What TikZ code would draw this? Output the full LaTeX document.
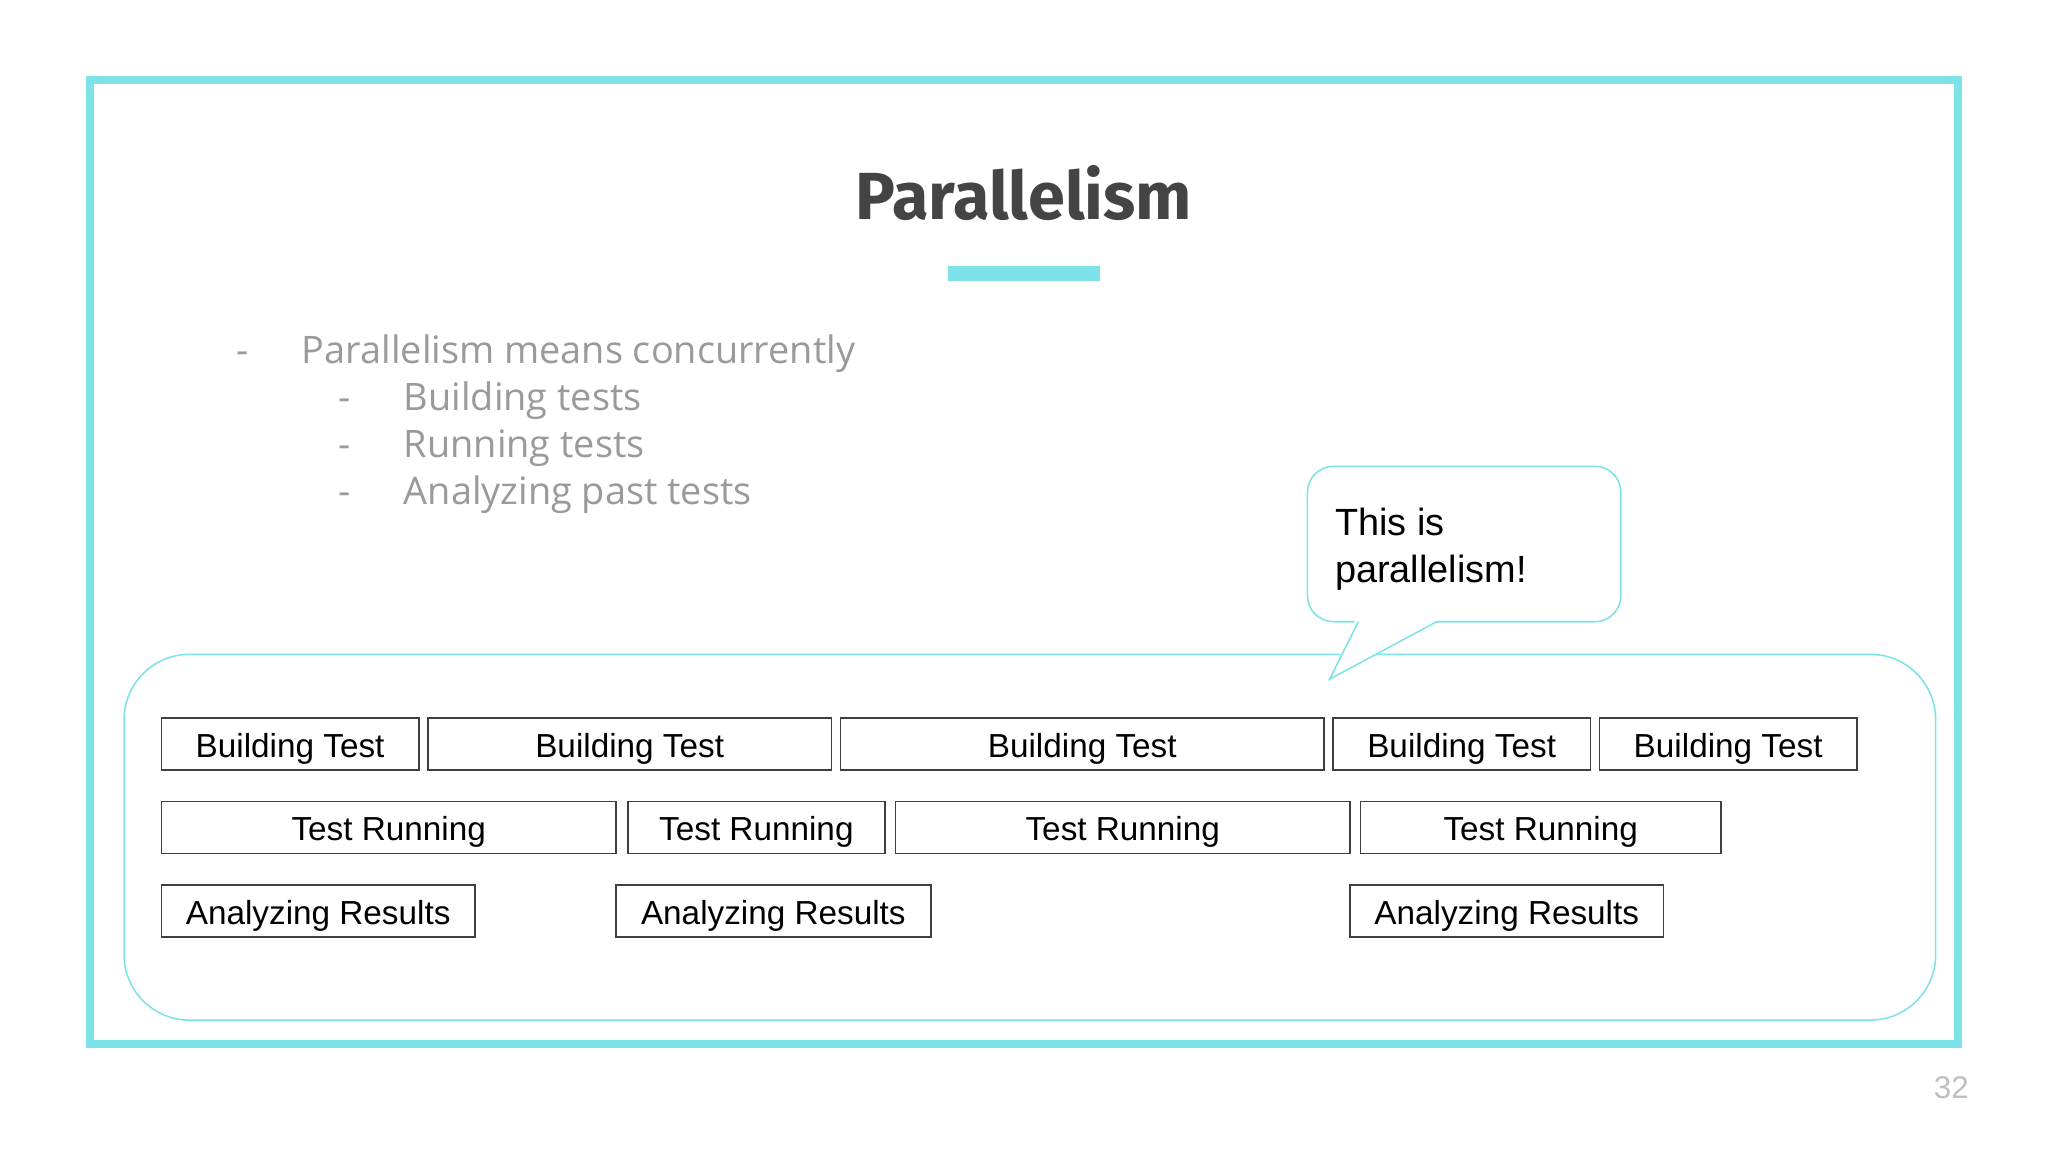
\documentclass[tikz,border=0pt]{standalone}
\usepackage{fontspec}
\setmainfont{Liberation Sans}
\newfontfamily\titlefont{Fira Sans}
\newfontfamily\bulletfont{Open Sans}
\definecolor{cy}{HTML}{7EE3E8}
\definecolor{tg}{HTML}{444444}
\definecolor{lg}{HTML}{9A9A9A}
\tikzset{
  tbox/.style={draw=black!75, line width=1.2pt, inner sep=0pt, anchor=north west, text height=20pt, text depth=0pt, font=\fontsize{25.5}{30}\selectfont},
  bul/.style={anchor=base west, inner sep=0pt, text=lg, font=\bulletfont\fontsize{29}{34}\selectfont},
}
\newcommand{\tb}[5]{\node[tbox, minimum width=#3pt-#2pt, minimum height=40pt] (#1) at (#2pt,-#4pt) {#5};}
\begin{document}
\begin{tikzpicture}[x=1pt,y=-1pt]
\useasboundingbox (0,0) rectangle (1568,882);
\fill[white] (0,0) rectangle (1568,882);
\draw[cy, line width=6pt] (69,61) rectangle (1499,799);
\node[text=tg, font=\titlefont\bfseries\fontsize{51}{60}\selectfont] (title) at (784,148) {Parallelism};
\fill[cy] (726,204) rectangle (842,215);
\node[bul] (d0) at (181,278) {-};
\node[bul] (b0) at (231,278) {Parallelism means concurrently};
\node[bul] (d1) at (259,314) {-};
\node[bul] (b1) at (309,314) {Building tests};
\node[bul] (d2) at (259,350) {-};
\node[bul] (b2) at (309,350) {Running tests};
\node[bul] (d3) at (259,386) {-};
\node[bul] (b3) at (309,386) {Analyzing past tests};
\draw[cy, line width=1.2pt, rounded corners=50pt] (95,501) rectangle (1482,781);
\draw[cy, line width=1.2pt, fill=white, rounded corners=20pt] (1001,357) rectangle (1241,476);
\fill[white] (1038,474) -- (1018,520) -- (1102,474) -- cycle;
\draw[cy, line width=1.2pt] (1040,476) -- (1018,520) -- (1100,476);
\node[anchor=north west, align=left, inner sep=0pt, font=\fontsize{29}{36}\selectfont] (bubble) at (1022,389) {This is\\parallelism!};
\tb{a1}{123}{320}{549}{Building Test}
\tb{a2}{327}{636}{549}{Building Test}
\tb{a3}{643}{1013}{549}{Building Test}
\tb{a4}{1020}{1217}{549}{Building Test}
\tb{a5}{1224}{1421}{549}{Building Test}
\tb{r1}{123}{471}{613}{Test Running}
\tb{r2}{480}{677}{613}{Test Running}
\tb{r3}{685}{1033}{613}{Test Running}
\tb{r4}{1041}{1317}{613}{Test Running}
\tb{z1}{123}{363}{677}{Analyzing Results}
\tb{z2}{471}{712}{677}{Analyzing Results}
\tb{z3}{1033}{1273}{677}{Analyzing Results}
\node[text=black!25, font=\fontsize{24}{28}\selectfont] (pg) at (1494,833) {32};
\end{tikzpicture}
\end{document}
